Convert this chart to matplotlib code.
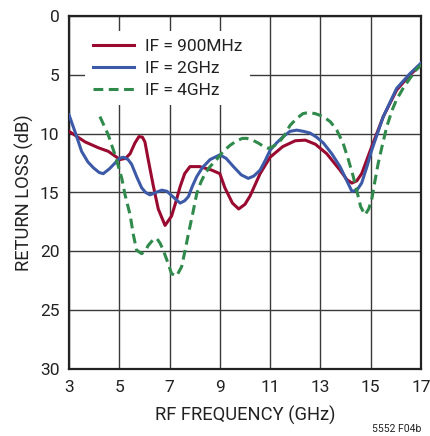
"""Return loss vs RF frequency, three IF settings."""

import matplotlib
matplotlib.use("Agg")
import matplotlib.pyplot as plt

# IF = 900MHz
f_900 = [3.0, 3.64, 4.17, 4.56, 5.03, 5.25, 5.43, 5.62, 5.78, 5.92, 6.02, 6.15,
         6.35, 6.55, 6.82, 7.08, 7.25, 7.42, 7.6, 7.81, 8.2, 8.68, 9.0, 9.2, 9.5,
         9.75, 10.0, 10.2, 10.6, 11.0, 11.5, 12.0, 12.4, 12.8, 13.25, 13.78, 14.05,
         14.25, 14.45, 14.64, 15.04, 15.5, 16.03, 16.56, 17.0]
rl_900 = [9.8, 10.7, 11.2, 11.5, 12.2, 12.1, 11.7, 10.8, 10.25, 10.3, 10.7, 12.2,
          14.4, 16.4, 17.8, 17.0, 15.8, 14.5, 13.4, 12.8, 12.8, 13.1, 13.4, 14.6, 15.9,
          16.4, 16.0, 15.3, 13.4, 12.0, 11.1, 10.6, 10.55, 10.9, 11.7, 13.1, 13.9,
          14.2, 14.0, 13.4, 11.1, 8.55, 6.3, 5.0, 4.15]

# IF = 2GHz
f_2g = [3.0, 3.25, 3.5, 3.75, 3.97, 4.2, 4.36, 4.6, 4.83, 5.0, 5.16, 5.35, 5.49,
        5.7, 5.89, 6.05, 6.22, 6.45, 6.69, 6.9, 7.1, 7.42, 7.6, 7.75, 7.9, 8.08,
        8.3, 8.61, 9.0, 9.25, 9.54, 9.85, 10.13, 10.35, 10.6, 10.8, 11.0, 11.25,
        11.52, 11.79, 12.06, 12.32, 12.59, 12.85, 13.12, 13.45, 13.78, 14.05,
        14.25, 14.45, 14.64, 14.85, 15.04, 15.5, 16.03, 16.56, 17.0]
rl_2g = [8.4, 9.9, 11.5, 12.4, 12.9, 13.3, 13.4, 13.0, 12.5, 12.1, 12.0, 12.2, 12.6,
         13.7, 14.6, 15.0, 15.2, 15.0, 14.8, 14.9, 15.3, 15.9, 15.7, 15.35, 14.5, 13.65,
         12.9, 12.2, 11.8, 12.1, 12.8, 13.5, 13.8, 13.6, 13.1, 12.3, 11.4, 10.8,
         10.25, 9.8, 9.7, 9.8, 9.95, 10.3, 10.8, 11.7, 12.8, 14.0,
         14.9, 14.8, 14.2, 12.8, 11.4, 8.55, 6.15, 4.9, 4.0]

# IF = 4GHz
f_4g = [4.23, 4.56, 4.83, 5.1, 5.23, 5.43, 5.56, 5.69, 5.89, 6.05, 6.15, 6.35,
        6.49, 6.62, 6.75, 6.92, 7.08, 7.28, 7.48, 7.62, 7.75, 7.92, 8.08, 8.25,
        8.41, 8.61, 8.87, 9.14, 9.4, 9.67, 9.9, 10.07, 10.3, 10.53, 10.75, 10.93,
        11.1, 11.33, 11.55, 11.79, 12.06, 12.3, 12.52, 12.8, 13.12, 13.4, 13.65,
        13.9, 14.11, 14.3, 14.44, 14.6, 14.77, 14.92, 15.04, 15.17, 15.3, 15.47,
        15.64, 15.85, 16.03, 16.3, 16.56, 16.8, 17.0]
rl_4g = [8.55, 10.1, 11.8, 13.8, 15.2, 16.9, 18.6, 19.9, 20.2, 19.9, 19.5, 19.0,
         18.9, 19.3, 19.9, 20.9, 21.9, 22.1, 21.3, 19.9, 18.5, 16.8, 15.1, 14.1,
         13.4, 12.8, 12.2, 11.5, 11.0, 10.6, 10.4, 10.4, 10.55, 10.8, 11.1, 11.25,
         11.1, 10.8, 10.2, 9.3, 8.7, 8.3, 8.2, 8.3, 8.55, 9.0, 9.7,
         10.8, 12.2, 13.6, 14.8, 16.2, 16.9, 16.4, 15.6, 14.0, 12.5, 10.9,
         9.4, 8.0, 7.1, 6.1, 5.3, 4.6, 4.15]

x_ticks = [3, 5, 7, 9, 11, 13, 15, 17]
y_ticks = [0, 5, 10, 15, 20, 25, 30]

plt.rcParams["font.family"] = ["Roboto", "DejaVu Sans"]
TXT = "#222222"

fig = plt.figure(figsize=(4.3, 4.36), dpi=100)
ax = fig.add_axes([69 / 430, 67 / 436, 352 / 430, 353 / 436])

ax.plot(f_900, rl_900, color="#9a0a30", lw=2.2, label="IF = 900MHz", zorder=3)
ax.plot(f_2g, rl_2g, color="#3c5aa8", lw=2.2, label="IF = 2GHz", zorder=3)
ax.plot(f_4g, rl_4g, color="#2f8a4b", lw=2.2, ls=(0, (3.2, 1.8)),
        label="IF = 4GHz", zorder=3)

ax.set_xlim(3, 17)
ax.set_ylim(30, 0)
ax.set_xticks(x_ticks)
ax.set_yticks(y_ticks)
ax.tick_params(length=0, labelsize=12.5, colors=TXT)
ax.tick_params(axis="x", pad=8)
ax.tick_params(axis="y", pad=7)
ax.grid(True, color="#3a3a3a", lw=1.0)
ax.set_axisbelow(True)
for s in ax.spines.values():
    s.set_linewidth(1.6)
    s.set_color(TXT)

ax.set_xlabel("RF FREQUENCY (GHz)", fontsize=13.2, color=TXT, labelpad=8)
ax.set_ylabel("RETURN LOSS (dB)", fontsize=13.2, color=TXT, labelpad=4)

leg = ax.legend(loc="upper left", bbox_to_anchor=(0.045, 0.957), fontsize=12.5,
                frameon=True, fancybox=False, framealpha=1, edgecolor="none",
                handlelength=2.4, handletextpad=0.6, labelspacing=0.38,
                borderpad=0.45, borderaxespad=0.0)
for t in leg.get_texts():
    t.set_color(TXT)

fig.text(421 / 430, 0.004, "5552 F04b", fontsize=7.5, ha="right", va="bottom",
         color=TXT)

fig.savefig("out.png", dpi=100)
